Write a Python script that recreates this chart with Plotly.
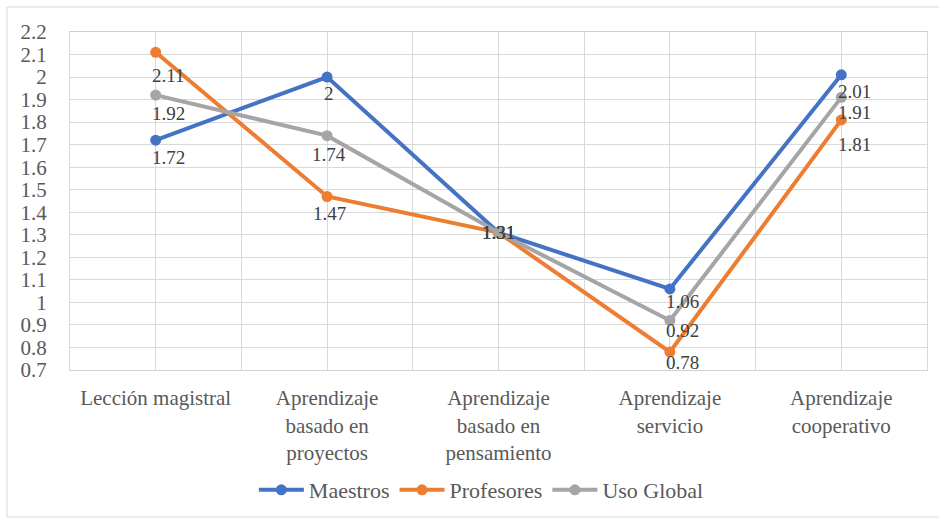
import plotly.graph_objects as go

categories = ["Lección magistral", "Aprendizaje<br>basado en<br>proyectos",
              "Aprendizaje<br>basado en<br>pensamiento", "Aprendizaje<br>servicio",
              "Aprendizaje<br>cooperativo"]
maestros = [1.72, 2.00, 1.31, 1.06, 2.01]
profesores = [2.11, 1.47, 1.31, 0.78, 1.81]
uso_global = [1.92, 1.74, 1.31, 0.92, 1.91]
y_ticks = [0.7, 0.8, 0.9, 1.0, 1.1, 1.2, 1.3, 1.4, 1.5, 1.6, 1.7, 1.8, 1.9, 2.0, 2.1, 2.2]

series = [
    ("Maestros", maestros, "#4472C4"),
    ("Profesores", profesores, "#ED7D31"),
    ("Uso Global", uso_global, "#A5A5A5"),
]

# label offsets (style only): horizontal per category, vertical per series/category
label_dx = [13, 2, 0, 13, 13]
label_dy = {
    "Maestros": [-17, -16, 0, -13, -17],
    "Profesores": [-23, -17, 0, -11, -25],
    "Uso Global": [-18, -19, 0, -10, -15],
}

FONT = "Times New Roman, Liberation Serif, DejaVu Serif, serif"
xs = list(range(len(categories)))

fig = go.Figure()
annotations = []
for name, vals, color in series:
    fig.add_trace(go.Scatter(
        x=xs, y=vals, name=name, mode="lines+markers",
        line=dict(color=color, width=4),
        marker=dict(color=color, size=11),
        cliponaxis=False,
    ))
    for i, v in zip(xs, vals):
        annotations.append(dict(
            x=i, y=v, xref="x", yref="y", text=f"{v:g}", showarrow=False,
            xanchor="center", yanchor="middle",
            xshift=label_dx[i], yshift=label_dy[name][i],
            font=dict(family=FONT, size=19, color="#404040"),
        ))

fig.update_layout(
    width=939, height=518,
    margin=dict(l=70, r=12, t=32, b=148, autoexpand=False),
    paper_bgcolor="white", plot_bgcolor="white",
    font=dict(family=FONT, size=20, color="#595959"),
    showlegend=True,
    legend=dict(orientation="h", x=0.48, xanchor="center",
                yref="container", y=0.054, yanchor="middle",
                font=dict(family=FONT, size=22, color="#595959"),
                itemwidth=45, tracegroupgap=0),
    xaxis=dict(range=[-0.5, 4.5], tickmode="array", tickvals=xs, ticktext=categories,
               showgrid=True, gridcolor="#d9d9d9", gridwidth=1,
               minor=dict(tick0=-0.5, dtick=0.5, showgrid=True, gridcolor="#d9d9d9", gridwidth=1),
               showline=True, mirror=True, linecolor="#d0d0d0", linewidth=1,
               zeroline=False, ticks="", ticklabelstandoff=9, automargin=False,
               tickfont=dict(family=FONT, size=21, color="#595959")),
    yaxis=dict(range=[0.7, 2.2], tickmode="array", tickvals=y_ticks,
               ticktext=[f"{t:g}" for t in y_ticks],
               showgrid=True, gridcolor="#d9d9d9", gridwidth=1,
               showline=True, mirror=True, linecolor="#d9d9d9", linewidth=1,
               zeroline=False, ticks="", ticklabelstandoff=18, automargin=False,
               tickfont=dict(family=FONT, size=21, color="#595959")),
    annotations=annotations,
    shapes=[dict(type="rect", xref="paper", yref="paper",
                 x0=-0.0735, x1=1.05, y0=-0.435, y1=1.074,
                 line=dict(color="#d9d9d9", width=1), fillcolor="rgba(0,0,0,0)", layer="below")],
)

fig.write_html("out.html", config={"displayModeBar": False},
               post_script="document.body.style.margin='0';document.body.style.overflow='hidden';")
